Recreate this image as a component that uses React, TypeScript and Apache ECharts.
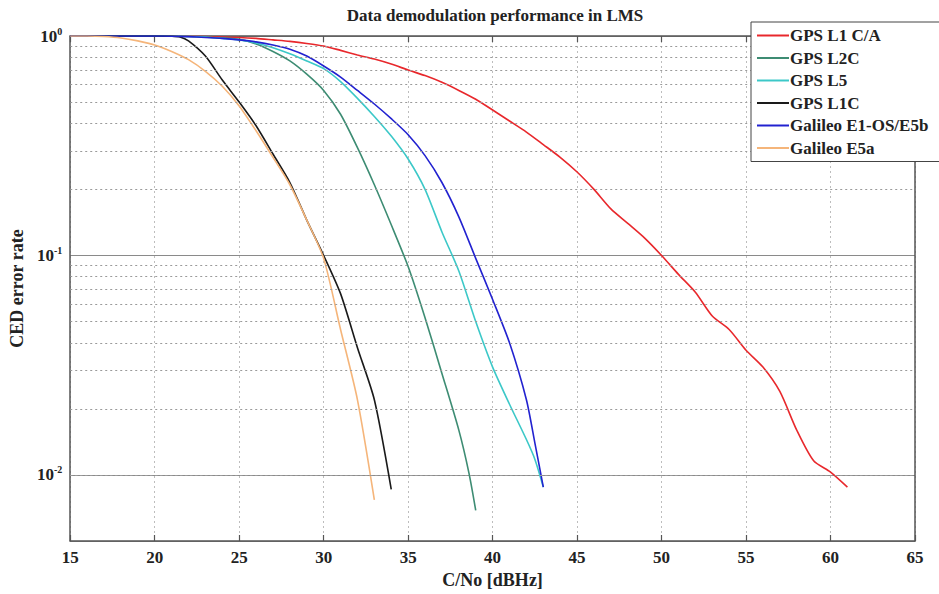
import React, { useEffect, useRef } from "react";
import * as echarts from "echarts";

const seriesNames = ["GPS L1 C/A", "GPS L2C", "GPS L5", "GPS L1C", "Galileo E1-OS/E5b", "Galileo E5a"];
const seriesColors = ["#e8282c", "#3d8c73", "#3cc8c8", "#1a1a1a", "#2222d0", "#f5b57a"];

const l1caX = [15, 20, 22, 24, 25, 26, 27, 28, 29, 30, 31, 32, 33, 34, 35, 36, 37, 38, 39, 40, 41, 42, 43, 44, 45, 46, 47, 48, 49, 50, 51, 52, 53, 54, 55, 56, 57, 58, 59, 60, 61];
const l1caY = [1, 1, 0.998, 0.99, 0.985, 0.975, 0.96, 0.945, 0.925, 0.9, 0.86, 0.82, 0.785, 0.745, 0.7, 0.66, 0.615, 0.565, 0.515, 0.46, 0.41, 0.365, 0.32, 0.28, 0.24, 0.2, 0.163, 0.14, 0.12, 0.1, 0.082, 0.068, 0.053, 0.046, 0.037, 0.031, 0.024, 0.016, 0.0116, 0.0103, 0.0088];

const l2cX = [15, 20, 21, 22, 23, 24, 25, 26, 27, 28, 29, 30, 31, 32, 33, 34, 35, 36, 37, 38, 38.6, 39];
const l2cY = [1, 1, 0.998, 0.995, 0.99, 0.98, 0.965, 0.92, 0.85, 0.77, 0.67, 0.565, 0.44, 0.31, 0.21, 0.138, 0.089, 0.052, 0.029, 0.016, 0.0102, 0.0069];

const l5X = [15, 20, 21, 22, 23, 24, 25, 26, 27, 28, 29, 30, 31, 32, 33, 34, 35, 36, 37, 38, 39, 40, 41, 42, 42.5, 43];
const l5Y = [1, 1, 0.998, 0.995, 0.99, 0.975, 0.96, 0.93, 0.885, 0.83, 0.77, 0.71, 0.62, 0.52, 0.43, 0.35, 0.275, 0.2, 0.128, 0.085, 0.05, 0.031, 0.021, 0.0145, 0.0118, 0.0088];

const l1cX = [15, 20, 21, 21.5, 22, 23, 24, 25, 26, 27, 28, 29, 30, 31, 32, 33, 34];
const l1cY = [1, 1, 0.998, 0.99, 0.95, 0.81, 0.63, 0.5, 0.39, 0.29, 0.215, 0.145, 0.1, 0.067, 0.038, 0.022, 0.0086];

const e1X = [15, 20, 21, 22, 23, 24, 25, 26, 27, 28, 29, 30, 31, 32, 33, 34, 35, 36, 37, 38, 39, 40, 41, 42, 42.5, 43];
const e1Y = [1, 1, 0.998, 0.993, 0.985, 0.975, 0.96, 0.94, 0.91, 0.87, 0.81, 0.73, 0.65, 0.565, 0.49, 0.42, 0.355, 0.285, 0.215, 0.15, 0.097, 0.063, 0.04, 0.022, 0.014, 0.0088];

const e5aX = [15, 16, 17, 18, 19, 20, 21, 22, 23, 24, 25, 26, 27, 28, 29, 30, 31, 32, 33];
const e5aY = [1, 1, 0.995, 0.98, 0.95, 0.91, 0.85, 0.78, 0.69, 0.59, 0.48, 0.37, 0.28, 0.21, 0.145, 0.097, 0.046, 0.022, 0.0077];

const minorGridValues = [0.006, 0.007, 0.008, 0.009, 0.02, 0.03, 0.04, 0.05, 0.06, 0.07, 0.08, 0.09, 0.2, 0.3, 0.4, 0.5, 0.6, 0.7, 0.8, 0.9];

const seriesX = [l1caX, l2cX, l5X, l1cX, e1X, e5aX];
const seriesY = [l1caY, l2cY, l5Y, l1cY, e1Y, e5aY];

const FONT = "'Liberation Serif', 'DejaVu Serif', serif";

export default function App() {
  const ref = useRef<HTMLDivElement>(null);
  useEffect(() => {
    if (!ref.current) return;
    const chart = echarts.init(ref.current, undefined, { renderer: "svg" });
    const lineSeries: any[] = seriesNames.map((name, i) => ({
      name,
      type: "line",
      data: seriesX[i].map((x, j) => [x, seriesY[i][j]]),
      symbol: "none",
      smooth: 0.25,
      lineStyle: { color: seriesColors[i], width: 1.6 },
      itemStyle: { color: seriesColors[i] },
      z: 3,
    }));
    lineSeries.unshift({
      type: "line",
      data: [],
      symbol: "none",
      silent: true,
      z: 1,
      markLine: {
        silent: true,
        symbol: "none",
        animation: false,
        label: { show: false },
        lineStyle: { type: [2, 3], color: "#9a9a9a", width: 1 },
        data: minorGridValues.map((v) => ({ yAxis: v })),
      },
    });
    const yLabel = (v: number) => {
      const l = Math.log10(v);
      const e = Math.round(l);
      if (Math.abs(l - e) > 1e-6) return "";
      return `{b|10}{s|${e}}`;
    };
    chart.setOption({
      animation: false,
      backgroundColor: "#fff",
      title: {
        text: "Data demodulation performance in LMS",
        left: 490,
        top: 2,
        textAlign: "center",
        textStyle: { fontFamily: FONT, fontWeight: "bold", fontSize: 17, color: "#222" },
      },
      legend: {
        data: seriesNames,
        orient: "vertical",
        left: 751,
        top: 22,
        icon: "rect",
        itemWidth: 32,
        itemHeight: 2,
        itemGap: 5.5,
        padding: [5, 12, 5, 6],
        backgroundColor: "#fff",
        borderColor: "#444",
        borderWidth: 1,
        borderRadius: 0,
        textStyle: { fontFamily: FONT, fontWeight: "bold", fontSize: 17, color: "#222", lineHeight: 16, padding: [0, 0, 0, -4] },
        z: 10,
      },
      grid: { left: 65, right: 24, top: 36, bottom: 43 },
      xAxis: [
        {
          type: "value",
          min: 15,
          max: 65,
          interval: 5,
          name: "C/No [dBHz]",
          nameLocation: "middle",
          nameGap: 30,
          nameTextStyle: { fontFamily: FONT, fontWeight: "bold", fontSize: 18, color: "#222" },
          axisLine: { show: true, lineStyle: { color: "#555", width: 1.5 } },
          axisTick: { inside: true, length: 6, lineStyle: { color: "#555", width: 1.2 } },
          axisLabel: { fontFamily: FONT, fontWeight: "bold", fontSize: 17, color: "#222", margin: 8 },
          splitLine: { show: true, lineStyle: { type: [2, 3], color: "#bdbdbd", width: 1 } },
        },
        {
          type: "value",
          position: "top",
          min: 15,
          max: 65,
          interval: 5,
          axisLine: { show: true, lineStyle: { color: "#555", width: 1.5 } },
          axisTick: { inside: true, length: 6, lineStyle: { color: "#555", width: 1.2 } },
          axisLabel: { show: false },
          splitLine: { show: false },
        },
      ],
      yAxis: [
        {
          type: "log",
          logBase: 10,
          min: 0.005,
          max: 1,
          name: "CED error rate",
          nameLocation: "middle",
          nameGap: 36,
          nameRotate: 90,
          nameTextStyle: { fontFamily: FONT, fontWeight: "bold", fontSize: 18, color: "#222" },
          axisLine: { show: true, lineStyle: { color: "#555", width: 1.5 } },
          axisTick: { show: false },
          axisLabel: {
            formatter: yLabel,
            margin: 8,
            rich: {
              b: { fontFamily: FONT, fontWeight: "bold", fontSize: 17, color: "#222" },
              s: { fontFamily: FONT, fontWeight: "bold", fontSize: 10, color: "#222", padding: [0, 0, 10, 0] },
            },
          },
          splitLine: { show: true, lineStyle: { type: "solid", color: "#8a8a8a", width: 1.2 } },
        },
        {
          type: "log",
          logBase: 10,
          min: 0.005,
          max: 1,
          position: "right",
          axisLine: { show: true, lineStyle: { color: "#555", width: 1.5 } },
          axisTick: { show: false },
          axisLabel: { show: false },
          splitLine: { show: false },
        },
      ],
      series: lineSeries,
    });
    return () => chart.dispose();
  }, []);
  return <div ref={ref} style={{ width: 939, height: 594, position: "absolute", left: 0, top: 0 }} />;
}
